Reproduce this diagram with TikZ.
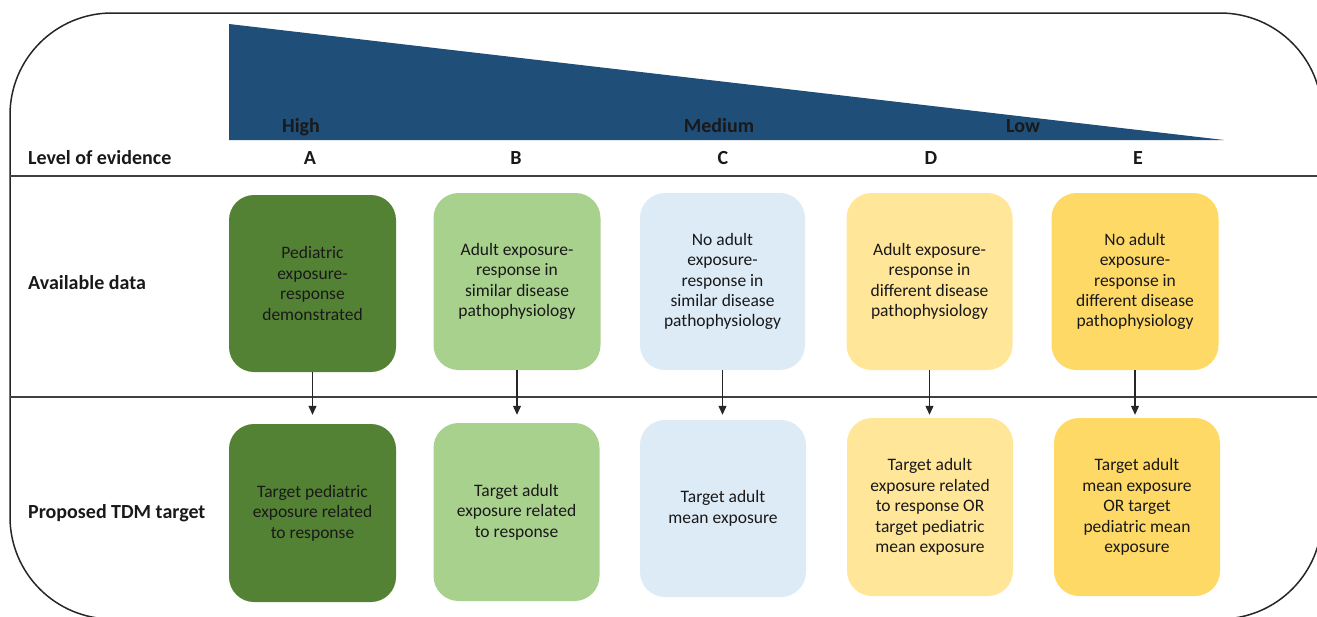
\documentclass[tikz,border=0pt]{standalone}
\usepackage{fontspec}
\setmainfont{Carlito}
\usetikzlibrary{arrows.meta}
\definecolor{wedgeblue}{RGB}{31,78,121}
\definecolor{lvA}{RGB}{84,130,53}
\definecolor{lvB}{RGB}{169,209,142}
\definecolor{lvC}{RGB}{221,235,247}
\definecolor{lvD}{RGB}{255,230,153}
\definecolor{lvE}{RGB}{255,217,102}
\definecolor{txt}{RGB}{25,25,25}
\begin{document}
\begin{tikzpicture}[x=1pt,y=-1pt,
  card/.style={rounded corners=25pt, inner sep=0pt, align=center,
    minimum width=166pt, minimum height=177pt,
    font=\fontsize{17.5}{20.4}\selectfont, text=txt},
  lab/.style={font=\fontsize{20}{23}\selectfont\bfseries, anchor=base, inner sep=0pt, text=txt},
  rowlab/.style={lab, anchor=base west},
  sepline/.style={line width=1.2pt, draw=black!75},
  flow/.style={-{Triangle[length=9pt,width=8pt]}, line width=1.1pt, draw=black!85}]
\useasboundingbox (0,0) rectangle (1317,616);
\clip (0,0) rectangle (1317,616);
% outer frame
\draw[line width=1.5pt, draw=black!85, rounded corners=102pt] (10,13) rectangle (1322,619);
% wedge
\fill[wedgeblue] (229,24) -- (1224,140) -- (229,140) -- cycle;
\node[lab] (high) at (301,132) {High};
\node[lab] (medium) at (719,132) {Medium};
\node[lab] (low) at (1023,132) {Low};
% level row
\node[rowlab] (loe) at (28,164) {Level of evidence};
\node[lab] (la) at (310,164) {A};
\node[lab] (lb) at (516,164) {B};
\node[lab] (lc) at (723,164) {C};
\node[lab] (ld) at (931,164) {D};
\node[lab] (le) at (1138,164) {E};
% separators
\draw[sepline] (10,176) -- (1317,176);
\draw[sepline] (10,397) -- (1317,397);
% row labels
\node[rowlab] (avail) at (28,289) {Available data};
\node[rowlab] (prop) at (28,518) {Proposed TDM target};
% row 1
\node[card, fill=lvA, minimum width=167pt] (a1) at (312.5,283.5) {Pediatric\\exposure-\\response\\demonstrated};
\node[card, fill=lvB, minimum width=167pt] (b1) at (517,281.5) {Adult exposure-\\response in\\similar disease\\pathophysiology};
\node[card, fill=lvC, minimum width=165pt] (c1) at (722.5,281.5) {No adult\\exposure-\\response in\\similar disease\\pathophysiology};
\node[card, fill=lvD] (d1) at (929.5,281.5) {Adult exposure-\\response in\\different disease\\pathophysiology};
\node[card, fill=lvE, minimum width=167pt] (e1) at (1135,281.5) {No adult\\exposure-\\response in\\different disease\\pathophysiology};
% row 2
\node[card, fill=lvA, minimum width=167pt, minimum height=178pt] (a2) at (312.5,513) {Target pediatric\\exposure related\\to response};
\node[card, fill=lvB, minimum height=178pt] (b2) at (516.5,512) {Target adult\\exposure related\\to response};
\node[card, fill=lvC] (c2) at (723,508.5) {Target adult\\mean exposure};
\node[card, fill=lvD, minimum height=178pt] (d2) at (930,507) {Target adult\\exposure related\\to response OR\\target pediatric\\mean exposure};
\node[card, fill=lvE, minimum height=178pt] (e2) at (1137,507) {Target adult\\mean exposure\\OR target\\pediatric mean\\exposure};
% arrows
\draw[flow, shorten >=9pt] (a1.south) -- (a1.south |- a2.north);
\draw[flow, shorten >=8pt] (b1.south) -- (b1.south |- b2.north);
\draw[flow, shorten >=5pt] (c1.south) -- (c1.south |- c2.north);
\draw[flow, shorten >=3pt] (d1.south) -- (d1.south |- d2.north);
\draw[flow, shorten >=3pt] (e1.south) -- (e1.south |- e2.north);
\end{tikzpicture}
\end{document}
